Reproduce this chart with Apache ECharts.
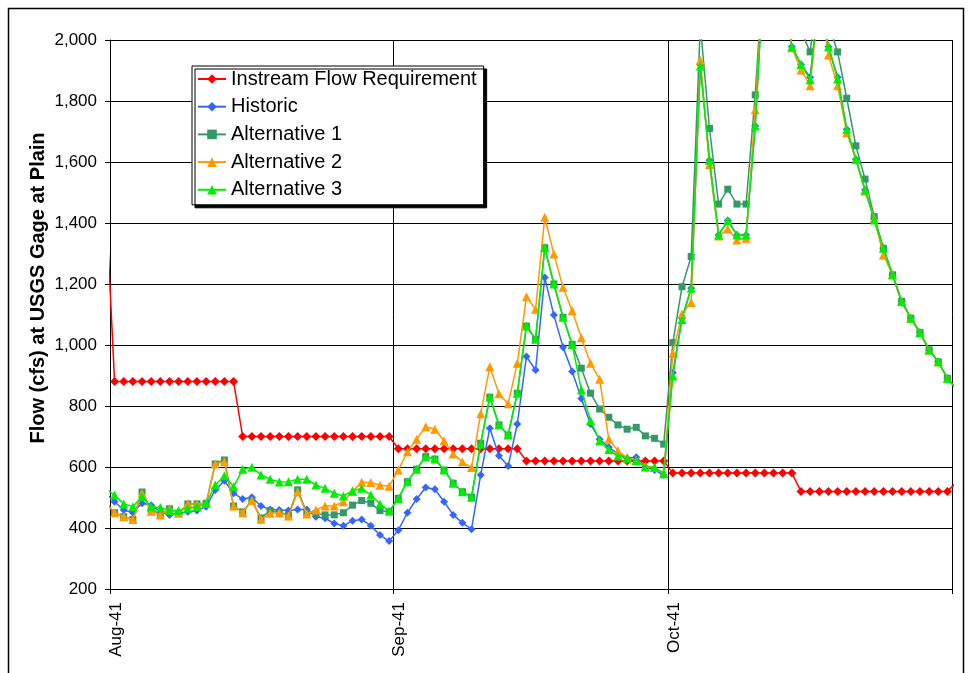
<!DOCTYPE html>
<html>
<head>
<meta charset="utf-8">
<script src="https://cdn.jsdelivr.net/npm/echarts@6/dist/echarts.min.js"></script>
<style>
html,body{margin:0;padding:0;background:#fff;}
#chart{width:972px;height:673px;}
</style>
</head>
<body>
<div id="chart"></div>
<script>
// Daily dates, Jul 31 1941 .. Nov 1 1941 (edge days only shape the clipped line ends)
const dates = [
 '1941-07-31',
 '1941-08-01','1941-08-02','1941-08-03','1941-08-04','1941-08-05','1941-08-06','1941-08-07','1941-08-08','1941-08-09','1941-08-10',
 '1941-08-11','1941-08-12','1941-08-13','1941-08-14','1941-08-15','1941-08-16','1941-08-17','1941-08-18','1941-08-19','1941-08-20',
 '1941-08-21','1941-08-22','1941-08-23','1941-08-24','1941-08-25','1941-08-26','1941-08-27','1941-08-28','1941-08-29','1941-08-30','1941-08-31',
 '1941-09-01','1941-09-02','1941-09-03','1941-09-04','1941-09-05','1941-09-06','1941-09-07','1941-09-08','1941-09-09','1941-09-10',
 '1941-09-11','1941-09-12','1941-09-13','1941-09-14','1941-09-15','1941-09-16','1941-09-17','1941-09-18','1941-09-19','1941-09-20',
 '1941-09-21','1941-09-22','1941-09-23','1941-09-24','1941-09-25','1941-09-26','1941-09-27','1941-09-28','1941-09-29','1941-09-30',
 '1941-10-01','1941-10-02','1941-10-03','1941-10-04','1941-10-05','1941-10-06','1941-10-07','1941-10-08','1941-10-09','1941-10-10',
 '1941-10-11','1941-10-12','1941-10-13','1941-10-14','1941-10-15','1941-10-16','1941-10-17','1941-10-18','1941-10-19','1941-10-20',
 '1941-10-21','1941-10-22','1941-10-23','1941-10-24','1941-10-25','1941-10-26','1941-10-27','1941-10-28','1941-10-29','1941-10-30','1941-10-31',
 '1941-11-01'
];

const instreamFlow = [
 1500,
 880,880,880,880,880,880,880,880,880,880,880,880,880,880,
 700,700,700,700,700,700,700,700,700,700,700,700,700,700,700,700,700,
 660,660,660,660,660,660,660,660,660,660,660,660,660,660,
 620,620,620,620,620,620,620,620,620,620,620,620,620,620,620,620,
 580,580,580,580,580,580,580,580,580,580,580,580,580,580,
 520,520,520,520,520,520,520,520,520,520,520,520,520,520,520,520,520,
 550
];

const historic = [
 515,
 486,459,450,481,475,453,443,449,453,457,470,525,555,514,
 495,501,472,461,459,457,461,461,437,432,415,407,424,428,407,377,357,
 393,450,495,533,527,486,443,417,396,574,727,637,603,741,
 962,918,1221,1098,993,913,825,741,691,665,643,629,632,601,590,574,
 909,1088,1186,1920,1606,1361,1408,1361,1361,1718,2270,2400,2200,1978,
 1920,1878,2150,1978,1878,1707,1609,1508,1415,1317,1230,1143,1088,1041,984,945,891,
 855
];

const alternative1 = [
 485,
 450,437,428,518,460,443,463,448,479,479,481,610,623,472,
 453,490,433,457,450,442,525,450,448,443,443,450,475,490,481,457,453,
 497,552,593,634,626,590,547,519,501,678,829,738,705,842,
 1062,1019,1319,1200,1091,1002,924,842,790,763,738,724,730,702,694,675,
 1008,1191,1290,2050,1710,1462,1511,1462,1462,1820,2290,2400,2250,2100,
 2030,1961,2200,2054,1961,1809,1653,1544,1421,1317,1230,1143,1088,1041,984,945,891,
 855
];

const alternative2 = [
 485,
 450,437,428,514,455,443,463,448,479,479,481,610,617,472,
 450,490,429,448,450,439,519,446,459,472,472,486,520,550,549,540,537,
 590,650,691,732,724,686,643,617,598,775,929,840,807,940,
 1158,1117,1419,1298,1189,1112,1024,940,888,691,653,630,622,603,598,580,
 973,1102,1139,1934,1592,1357,1380,1344,1350,1771,2260,2400,2200,1975,
 1902,1850,2150,1951,1850,1696,1609,1505,1415,1295,1230,1143,1088,1041,984,945,891,
 855
];

const alternative3 = [
 530,
 508,479,470,503,470,467,457,457,465,470,481,541,571,535,
 593,599,574,560,551,552,560,560,541,530,514,505,522,530,508,479,456,
 497,552,593,634,626,590,547,519,501,675,829,738,705,842,
 1062,1019,1319,1200,1091,1002,853,752,686,657,636,629,621,600,599,578,
 898,1084,1186,1915,1606,1361,1408,1361,1361,1718,2260,2400,2200,1978,
 1920,1870,2150,1978,1872,1707,1609,1508,1410,1317,1230,1143,1088,1041,984,945,891,
 855
];

const seriesNames = ['Instream Flow Requirement','Historic','Alternative 1','Alternative 2','Alternative 3'];
const tickDates = ['1941-08-01','1941-09-01','1941-10-01','1941-11-01'];
const tickLabels = ['Aug-41','Sep-41','Oct-41',''];
const yTitle = 'Flow (cfs) at USGS Gage at Plain';

const axisStart = Date.UTC(1941, 7, 1);
const DAY = 86400000;
function dayPos(s, hour) {
  const p = s.split('-').map(Number);
  return (Date.UTC(p[0], p[1]-1, p[2], hour) - axisStart) / DAY;
}
const xs = dates.map(d => dayPos(d, 12));
const tickPos = tickDates.map(d => dayPos(d, 0));
function pairs(vals){ return vals.map((v,i)=>[xs[i], v]); }

const FONT = '"Liberation Sans", Arial, sans-serif';
const styles = [
  {color:'#FF0000', symbol:'diamond', size:9},
  {color:'#3366FF', symbol:'diamond', size:8},
  {color:'#339966', symbol:'rect', size:7},
  {color:'#FF9900', symbol:'triangle', size:9},
  {color:'#00EE00', symbol:'triangle', size:9}
];
const allData = [instreamFlow, historic, alternative1, alternative2, alternative3];

const chart = echarts.init(document.getElementById('chart'), null, {renderer:'canvas'});
chart.setOption({
  animation:false,
  backgroundColor:'#ffffff',
  textStyle:{fontFamily:FONT},
  graphic:[{
    type:'rect', shape:{x:8.5, y:8.5, width:955, height:700},
    style:{fill:null, stroke:'#000', lineWidth:1.5}, silent:true, z:-10
  },{
    type:'text', x:38, y:288, rotation:Math.PI/2, silent:true,
    style:{text:yTitle, fill:'#000', font:'bold 20px ' + FONT, align:'center', verticalAlign:'middle'}
  }],
  grid:{left:110, top:40, right:20, bottom:84, containLabel:false},
  legend:{
    orient:'vertical', left:192, top:66,
    data:seriesNames,
    itemWidth:28, itemHeight:12, itemGap:7.7,
    padding:[3,7,5,5],
    borderColor:'#000', borderWidth:1, backgroundColor:'#fff',
    shadowColor:'#000', shadowOffsetX:3, shadowOffsetY:3, shadowBlur:0,
    textStyle:{fontSize:20, color:'#000', fontFamily:FONT, lineHeight:20}
  },
  xAxis:{
    type:'value', min:0, max:92,
    axisLine:{show:true, onZero:false, lineStyle:{color:'#000', width:1}},
    axisTick:{show:true, customValues:tickPos, length:5, lineStyle:{color:'#000'}},
    axisLabel:{
      customValues:tickPos.slice(0,3), rotate:90, fontSize:17, color:'#000',
      margin:13, verticalAlign:'top', lineHeight:12,
      formatter:function(v){ const i = tickPos.findIndex(t=>Math.abs(t-v)<1e-6); return i>=0 ? tickLabels[i] : ''; }
    },
    splitLine:{show:true, lineStyle:{color:'#000', width:1}}
  },
  yAxis:{
    type:'value', min:200, max:2000, interval:200,
    axisLine:{show:true, lineStyle:{color:'#000', width:1}},
    axisTick:{show:true, inside:false, length:5, lineStyle:{color:'#000'}},
    axisLabel:{fontSize:17, color:'#000', margin:13,
      formatter:function(v){ return v.toLocaleString('en-US'); }},
    splitLine:{show:true, lineStyle:{color:'#000', width:1}}
  },
  series: allData.map((vals, i) => ({
    name:seriesNames[i], type:'line', data:pairs(vals),
    clip:true, showAllSymbol:true,
    symbol:styles[i].symbol, symbolSize:styles[i].size,
    lineStyle:{color:styles[i].color, width:1.5},
    itemStyle:{color:styles[i].color},
    emphasis:{disabled:true},
    z:2+i
  }))
});
</script>
</body>
</html>
